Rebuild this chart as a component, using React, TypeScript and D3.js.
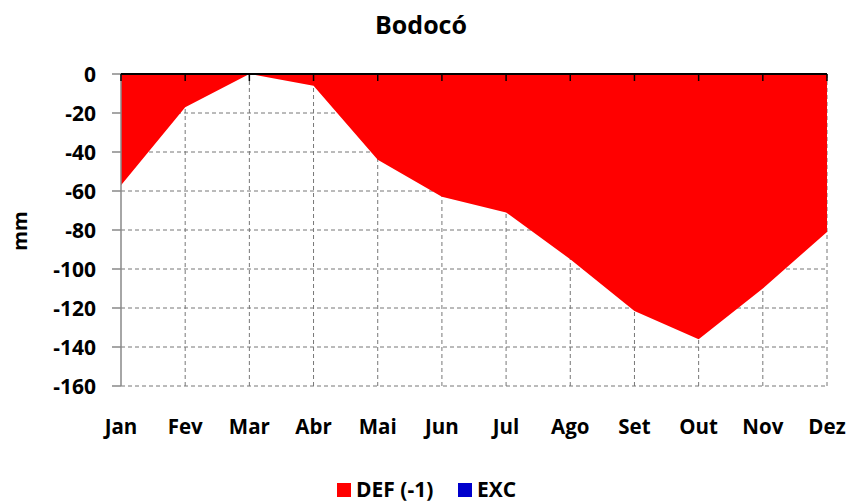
import React from "react";
import * as d3 from "d3";

const months = ["Jan", "Fev", "Mar", "Abr", "Mai", "Jun", "Jul", "Ago", "Set", "Out", "Nov", "Dez"];
const defValues = [-57, -17, 0, -6, -44, -63, -71, -95, -121.5, -136, -110, -81];
const excValues = [0, 0, 0, 0, 0, 0, 0, 0, 0, 0, 0, 0];
const yTicks = [0, -20, -40, -60, -80, -100, -120, -140, -160];
const title = "Bodocó";
const legendItems = [
  { label: "DEF (-1)", color: "#FF0000" },
  { label: "EXC", color: "#0000CC" },
];

const W = 848;
const H = 502;
const left = 121;
const right = 827;
const top = 74;
const bottom = 386;
const FONT = "'Open Sans', 'Liberation Sans', Arial, sans-serif";

export default function App() {
  const x = d3.scalePoint<string>().domain(months).range([left, right]);
  const y = d3.scaleLinear().domain([-160, 0]).range([bottom, top]);
  const area = d3
    .area<number>()
    .x((_, i) => x(months[i]) as number)
    .y0(y(0))
    .y1((d) => y(d));

  return (
    <svg width={W} height={H} style={{ position: "absolute", left: 0, top: 0, background: "#fff" }}>
      <rect x={0} y={0} width={W} height={H} fill="#fff" />
      <text x={421} y={34} textAnchor="middle" fontFamily={FONT} fontWeight="bold" fontSize={25} fill="#000">
        {title}
      </text>
      {/* horizontal grid */}
      {yTicks.filter((t) => t !== 0).map((t) => (
        <line key={"h" + t} x1={left} x2={right} y1={y(t)} y2={y(t)} stroke="#777" strokeWidth={1} strokeDasharray="4,3" />
      ))}
      {/* vertical grid */}
      {months.slice(1).map((m) => (
        <line key={"v" + m} x1={x(m)} x2={x(m)} y1={top} y2={bottom} stroke="#777" strokeWidth={1} strokeDasharray="4,3" />
      ))}
      <path d={area(defValues) || ""} fill="#FF0000" />
      <path d={area(excValues) || ""} fill="#0000CC" />
      {/* y axis */}
      <line x1={left} x2={left} y1={top} y2={bottom} stroke="#888" strokeWidth={1.5} />
      {yTicks.map((t) => (
        <g key={"yt" + t}>
          <line x1={left - 9} x2={left} y1={y(t)} y2={y(t)} stroke="#888" strokeWidth={1.5} />
          <text x={96} y={y(t)} dy="0.36em" textAnchor="end" fontFamily={FONT} fontWeight="bold" fontSize={21} fill="#000">
            {t}
          </text>
        </g>
      ))}
      {/* x axis at zero */}
      <line x1={left} x2={right} y1={y(0)} y2={y(0)} stroke="#000" strokeWidth={2} />
      {months.map((m) => (
        <line key={"xt" + m} x1={x(m)} x2={x(m)} y1={y(0)} y2={y(0) + 7} stroke="#000" strokeWidth={1.5} />
      ))}
      {months.map((m) => (
        <text key={"xl" + m} x={x(m)} y={434} textAnchor="middle" fontFamily={FONT} fontWeight="bold" fontSize={20.5} fill="#000">
          {m}
        </text>
      ))}
      <text transform={`translate(27,231) rotate(-90)`} textAnchor="middle" fontFamily={FONT} fontWeight="bold" fontSize={20} fill="#000">
        mm
      </text>
      {/* legend */}
      <g>
        <rect x={337} y={483} width={14} height={14} fill={legendItems[0].color} />
        <text x={356} y={497} fontFamily={FONT} fontWeight="bold" fontSize={21} fill="#000">{legendItems[0].label}</text>
        <rect x={458} y={483} width={14} height={14} fill={legendItems[1].color} />
        <text x={477} y={497} fontFamily={FONT} fontWeight="bold" fontSize={21} fill="#000">{legendItems[1].label}</text>
      </g>
    </svg>
  );
}
